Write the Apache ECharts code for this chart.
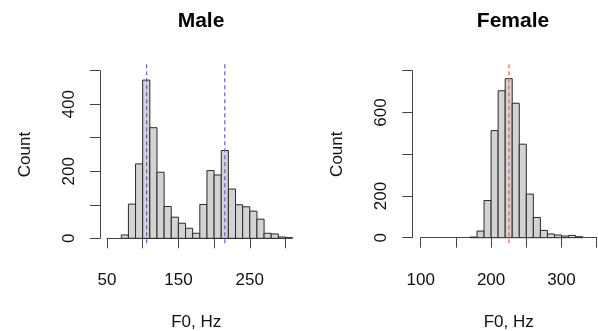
<!DOCTYPE html>
<html>
<head>
<meta charset="utf-8">
<script src="https://cdn.jsdelivr.net/npm/echarts@6/dist/echarts.min.js"></script>
<style>html,body{margin:0;padding:0;background:#fff}#c{width:598px;height:331px}</style>
</head>
<body>
<div id="c"></div>
<script>
// Histogram bin edges (Hz) and counts
const maleBinStart = 70;
const binWidth = 10;
const maleCounts = [10, 102, 222, 472, 330, 197, 95, 63, 45, 30, 15, 101, 202, 189, 262, 147, 100, 94, 81, 57, 15, 13, 4, 2];
const femaleBinStart = 170;
const femaleCounts = [3, 32, 178, 513, 704, 762, 644, 448, 209, 97, 35, 18, 13, 8, 11, 5];
const maleMeans = [105.5, 215];
const femaleMeans = [225.4];
const maleYLabels = [0, 200, 400];
const femaleYLabels = [0, 200, 600];
const maleXLabels = [50, 150, 250];
const femaleXLabels = [100, 200, 300];

function bins(start, counts) {
  return counts.map((c, i) => [start + i * binWidth, start + (i + 1) * binWidth, c]);
}

const FONT = 'Liberation Sans, Arial, Helvetica, sans-serif';
const AX = '#444';

function barSeries(idx, data) {
  return {
    type: 'custom', xAxisIndex: idx, yAxisIndex: idx, clip: false,
    encode: { x: [0, 1], y: 2 },
    data: data,
    renderItem: function (params, api) {
      const p0 = api.coord([api.value(0), api.value(2)]);
      const p1 = api.coord([api.value(1), 0]);
      return {
        type: 'rect',
        shape: { x: p0[0], y: p0[1], width: p1[0] - p0[0], height: p1[1] - p0[1] },
        style: { fill: '#d3d3d3', stroke: '#2a2a2a', lineWidth: 1 }
      };
    },
    z: 2
  };
}

function meanSeries(idx, means, color) {
  return {
    type: 'custom', xAxisIndex: idx, yAxisIndex: idx, clip: false,
    data: means.map(m => [m]),
    encode: { x: 0 },
    renderItem: function (params, api) {
      const cs = params.coordSys;
      const x = api.coord([api.value(0), 0])[0];
      return {
        type: 'line',
        shape: { x1: x, y1: cs.y - 6.5, x2: x, y2: cs.y + cs.height + 7 },
        style: { stroke: color, lineWidth: 1.2, lineDash: [4, 3] }
      };
    },
    z: 3
  };
}

function xAxis(idx, min, max, labels) {
  return {
    type: 'value', gridIndex: idx, min: min, max: max, interval: 50,
    position: 'bottom', offset: 7,
    name: 'F0, Hz', nameLocation: 'middle', nameGap: 69,
    nameTextStyle: { fontFamily: FONT, fontSize: 17, color: '#111' },
    axisLine: { show: true, lineStyle: { color: AX, width: 1 } },
    axisTick: { show: true, length: 10, lineStyle: { color: AX } },
    splitLine: { show: false },
    axisLabel: {
      margin: 27, fontFamily: FONT, fontSize: 17, color: '#111',
      formatter: v => (labels.indexOf(v) >= 0 ? String(v) : '')
    }
  };
}

function yAxis(idx, max, interval, labels, offset) {
  return {
    type: 'value', gridIndex: idx, min: 0, max: max, interval: interval,
    position: 'left', offset: offset,
    name: 'Count', nameLocation: 'middle', nameGap: 66, nameRotate: 90,
    nameTextStyle: { fontFamily: FONT, fontSize: 17, color: '#111' },
    axisLine: { show: true, lineStyle: { color: AX, width: 1 } },
    axisTick: { show: true, length: 10, lineStyle: { color: AX } },
    splitLine: { show: false },
    axisLabel: {
      rotate: 90, margin: 22, fontFamily: FONT, fontSize: 17, color: '#111',
      formatter: v => (labels.indexOf(v) >= 0 ? String(v) : '')
    }
  };
}

const chart = echarts.init(document.getElementById('c'), null, { renderer: 'canvas' });
chart.setOption({
  animation: false,
  backgroundColor: '#fff',
  title: [
    { text: 'Male', left: 196, top: 6, textAlign: 'center',
      textStyle: { fontFamily: FONT, fontSize: 21, fontWeight: 'bold', color: '#000' } },
    { text: 'Female', left: 508, top: 6, textAlign: 'center',
      textStyle: { fontFamily: FONT, fontSize: 21, fontWeight: 'bold', color: '#000' } }
  ],
  grid: [
    { left: 107, top: 70.7, width: 178.5, height: 167.6, containLabel: false, outerBoundsMode: 'none' },
    { left: 420.7, top: 70.7, width: 176, height: 167, containLabel: false, outerBoundsMode: 'none' }
  ],
  xAxis: [xAxis(0, 50, 300, maleXLabels), xAxis(1, 100, 350, femaleXLabels)],
  yAxis: [yAxis(0, 500, 100, maleYLabels, 7), yAxis(1, 800, 200, femaleYLabels, 8.4)],
  series: [
    barSeries(0, bins(maleBinStart, maleCounts)),
    meanSeries(0, maleMeans, '#5a5aff'),
    barSeries(1, bins(femaleBinStart, femaleCounts)),
    meanSeries(1, femaleMeans, '#ff5555')
  ]
});
</script>
</body>
</html>
